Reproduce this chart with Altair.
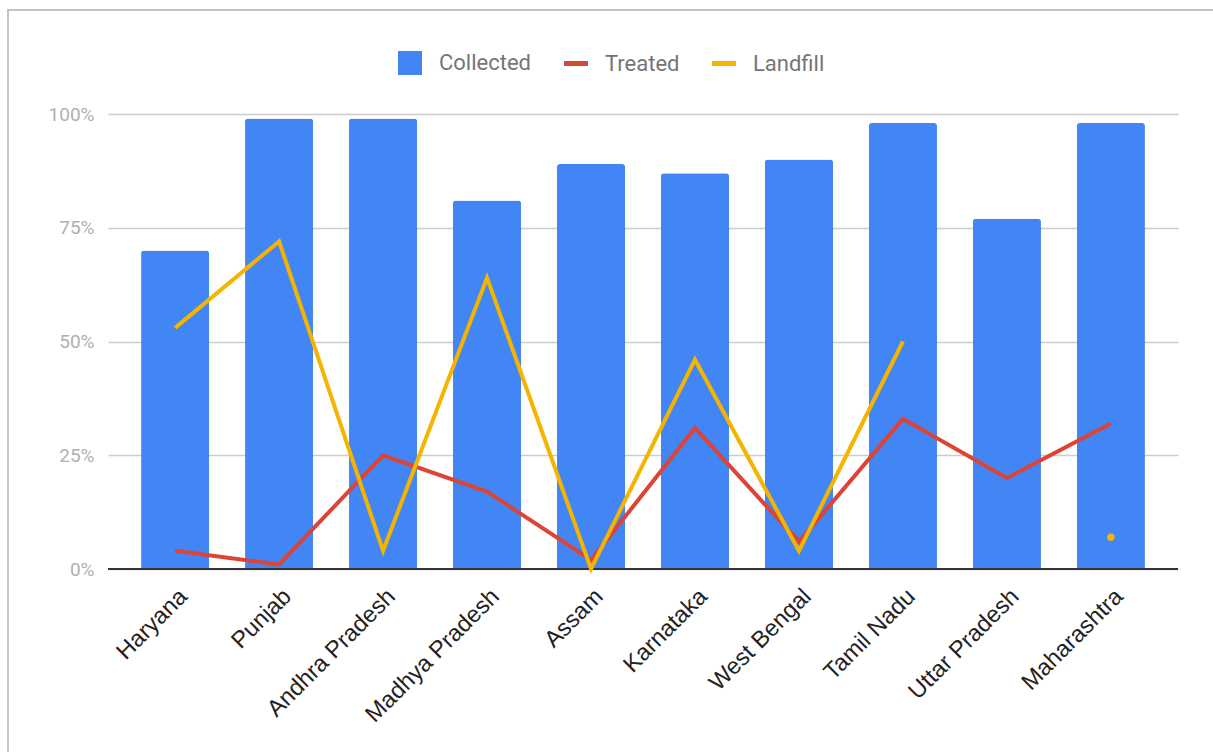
import altair as alt
import pandas as pd

# Municipal solid waste handling by state (share of waste generated)
states = ["Haryana", "Punjab", "Andhra Pradesh", "Madhya Pradesh", "Assam",
          "Karnataka", "West Bengal", "Tamil Nadu", "Uttar Pradesh", "Maharashtra"]
collected = [70, 99, 99, 81, 89, 87, 90, 98, 77, 98]
treated = [4, 1, 25, 17, 2, 31, 6, 33, 20, 32]
landfill = [53, 72, 4, 64, 0, 46, 4, 50, None, 7]

series_names = ["Collected", "Treated", "Landfill"]
series_colors = ["#4285F4", "#DB4437", "#F4B400"]

bars_df = pd.DataFrame({"state": states,
                        "value": [v / 100 for v in collected],
                        "series": "Collected"})

rows = []
for name, vals in (("Treated", treated), ("Landfill", landfill)):
    for i, (s, v) in enumerate(zip(states, vals)):
        prev_missing = i == 0 or vals[i - 1] is None
        next_missing = i == len(vals) - 1 or vals[i + 1] is None
        rows.append({"state": s, "series": name, "order": i,
                     "value": None if v is None else v / 100,
                     "isolated": v is not None and prev_missing and next_missing})
lines_df = pd.DataFrame(rows)

x_enc = alt.X("state:N", sort=states, title=None,
              scale=alt.Scale(paddingInner=0.345, paddingOuter=0.318),
              axis=alt.Axis(labelAngle=-45, labelAlign="right", labelBaseline="top",
                            labelFont="Liberation Sans", labelFontSize=23.5,
                            labelColor="#222222", labelPadding=15,
                            ticks=False, domain=False, grid=False))

y_enc = alt.Y("value:Q", title=None,
              scale=alt.Scale(domain=[0, 1], nice=False),
              axis=alt.Axis(values=[0, 0.25, 0.5, 0.75, 1], format=".0%",
                            labelFont="Roboto", labelFontSize=19,
                            labelColor="#b0b0b0", labelPadding=14,
                            ticks=False, domain=False,
                            gridColor="#cccccc", gridWidth=1.5))

is_bar = "datum.value === 'Collected'"
legend = alt.Legend(
    orient="none", legendX=291, legendY=-62, direction="horizontal", title=None,
    labelFont="Roboto", labelFontSize=22, labelColor="#757575",
    labelOffset=18, columnPadding=22, symbolSize=576,
    symbolType=alt.ExprRef(f"{is_bar} ? 'square' : 'stroke'"),
    symbolStrokeWidth=alt.ExprRef(f"{is_bar} ? 0 : 5"),
    symbolFillColor=alt.ExprRef("scale('color', datum.value)"),
    symbolStrokeColor=alt.ExprRef("scale('color', datum.value)"),
    symbolOpacity=1)

color_enc = alt.Color("series:N",
                      scale=alt.Scale(domain=series_names, range=series_colors),
                      legend=legend)

# Outer frame around the whole chart
frame = alt.Chart(bars_df).mark_rect(fill=None, stroke="#c4c4c4", strokeWidth=1.5).encode(
    x=alt.value(-100), x2=alt.value(1120), y=alt.value(-104), y2=alt.value(650))

bars = alt.Chart(bars_df).mark_bar(cornerRadiusTopLeft=3, cornerRadiusTopRight=3).encode(
    x=x_enc, y=y_enc, color=color_enc)

baseline = alt.Chart(bars_df).mark_rule(color="#333333", strokeWidth=2).encode(
    y=alt.datum(0))

lines = alt.Chart(lines_df).mark_line(strokeWidth=4, strokeJoin="miter").encode(
    x=x_enc, y=y_enc, color=color_enc, detail="series:N", order="order:Q")

dots = alt.Chart(lines_df).transform_filter("datum.isolated").mark_circle(
    size=55, opacity=1).encode(x=x_enc, y=y_enc, color=color_enc)

chart = alt.layer(frame, bars, baseline, lines, dots).properties(
    width=1070, height=455,
    autosize=alt.AutoSizeParams(type="none"),
    padding={"left": 108, "top": 114, "right": 35, "bottom": 183},
).configure(background="white").configure_view(stroke=None)

chart.save("out.html", embed_options={"renderer": "svg", "actions": False})
